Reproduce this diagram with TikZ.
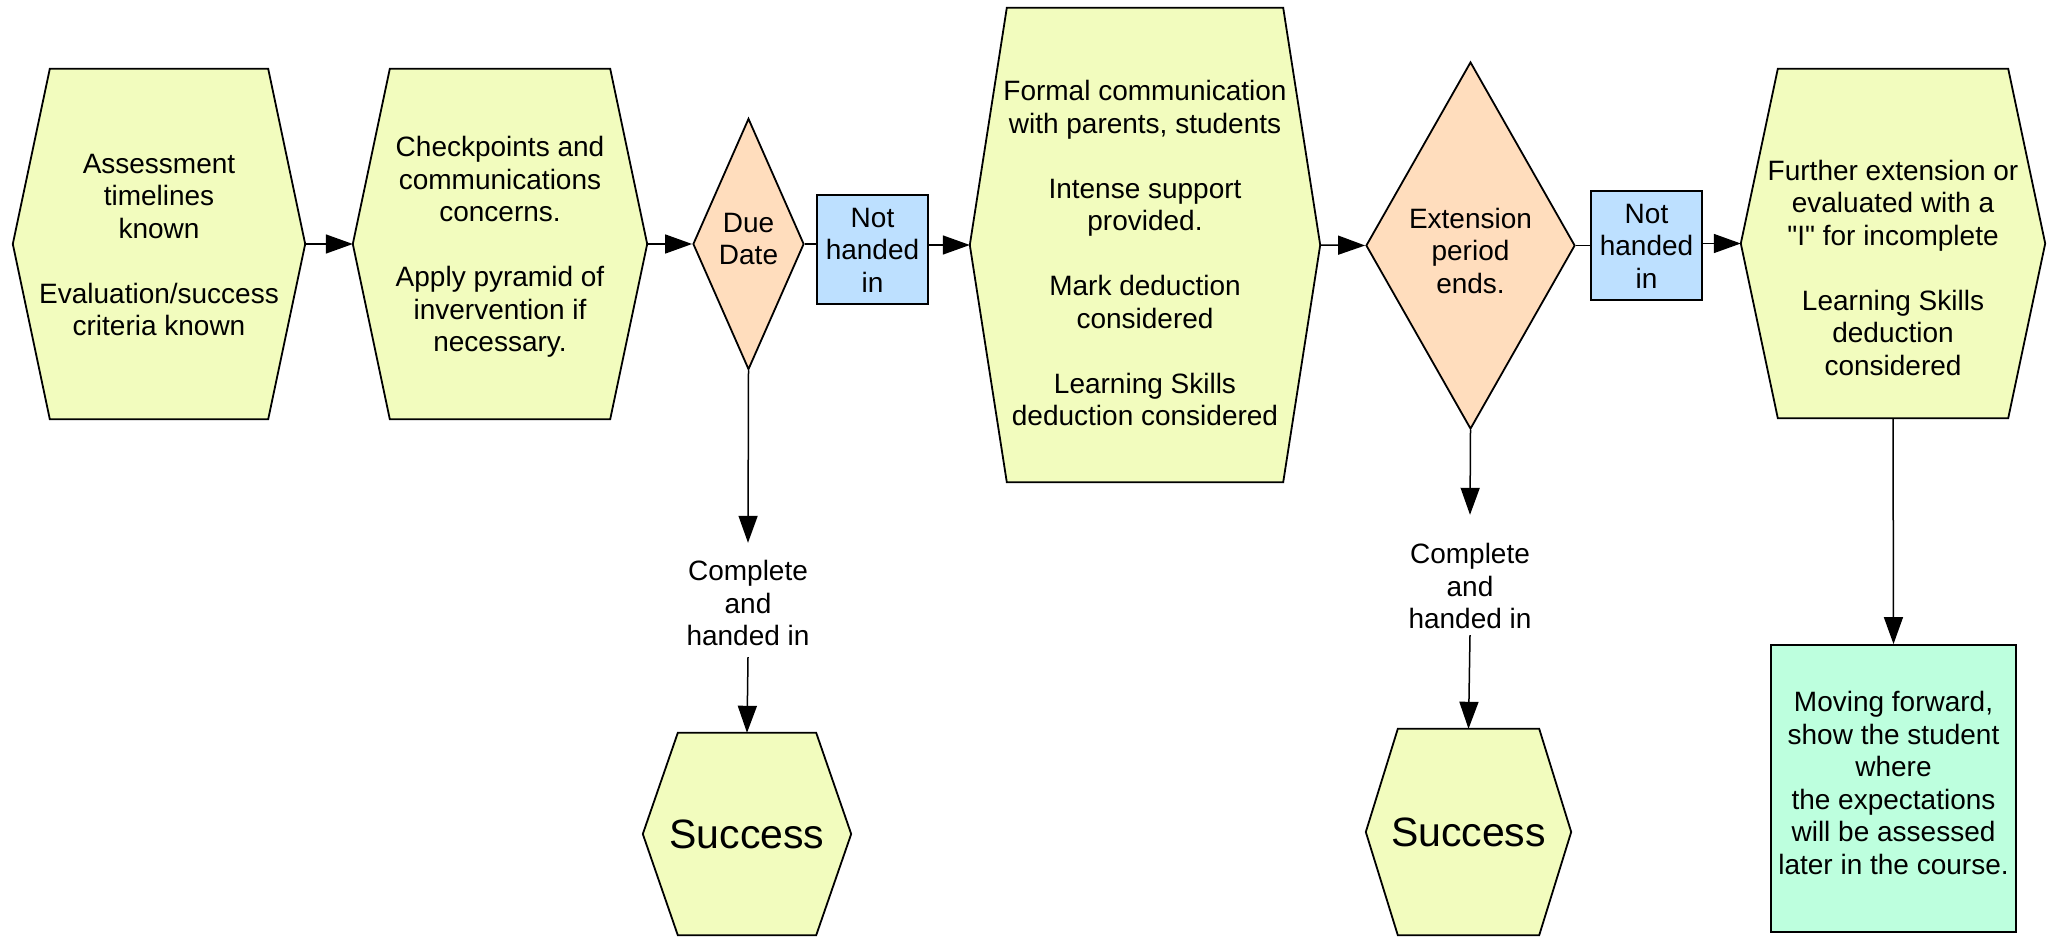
\documentclass[tikz,border=0pt]{standalone}
\usepackage{fontspec}
\setmainfont{Liberation Sans}[Ligatures=TeXOff]
\usetikzlibrary{arrows.meta,shapes.geometric,backgrounds}
\definecolor{hexfill}{RGB}{242,252,190}
\definecolor{decfill}{RGB}{255,221,189}
\definecolor{nhfill}{RGB}{189,224,255}
\definecolor{endfill}{RGB}{189,255,222}
\newcommand\tx[2]{\raisebox{#1pt}[0pt][0pt]{\begin{tabular}{@{}c@{}}#2\end{tabular}}}
\newcommand\hexpath[2]{%
  \path[hexshape] (#1.west) -- ([xshift=#2]#1.north west) -- ([xshift=-#2]#1.north east)
    -- (#1.east) -- ([xshift=-#2]#1.south east) -- ([xshift=#2]#1.south west) -- cycle;}
\tikzset{
  txtfont/.style={font=\fontsize{28}{32.5}\selectfont},
  hexbox/.style={rectangle, inner sep=0pt, txtfont},
  hexshape/.style={draw=black, line width=1.8pt, fill=hexfill, line join=miter},
  decision/.style={diamond, draw=black, fill=decfill, line width=1.8pt, inner sep=0pt, txtfont},
  nhbox/.style={rectangle, draw=black, fill=nhfill, line width=1.8pt, inner sep=0pt,
    minimum width=111, minimum height=109, txtfont},
  endbox/.style={rectangle, draw=black, fill=endfill, line width=1.8pt, inner sep=0pt, txtfont},
  lbl/.style={rectangle, inner sep=0pt, txtfont},
  conn/.style={line width=1.5pt},
  arr/.style={conn, -{Triangle[length=27pt,width=19pt]}},
}
\begin{document}
\begin{tikzpicture}[x=1pt, y=-1pt]
\useasboundingbox (0,0) rectangle (2053,939);
% top row
\node[hexbox, minimum width=292, minimum height=350] (h1) at (159,244)
  {\tx{-10}{Assessment\\timelines\\known\\ \\Evaluation/success\\criteria known}};
\node[hexbox, minimum width=294, minimum height=350] (h2) at (500,244)
  {\tx{-10}{Checkpoints and\\communications\\concerns.\\ \\Apply pyramid of\\invervention if\\necessary.}};
\node[decision, minimum width=111, minimum height=251] (due) at (748.5,244)
  {\tx{-4}{Due\\Date}};
\node[nhbox] (nh1) at (872.5,249.5) {\tx{-10}{Not\\handed\\in}};
\node[hexbox, minimum width=350, minimum height=474] (h3) at (1145,245)
  {\tx{-18}{Formal communication\\with parents, students\\ \\Intense support\\provided.\\ \\Mark deduction\\considered\\ \\Learning Skills\\deduction considered}};
\node[decision, minimum width=209, minimum height=367] (ext) at (1470.5,245.5)
  {\tx{-15}{Extension\\period\\ends.}};
\node[nhbox] (nh2) at (1646.5,245.5) {\tx{-10}{Not\\handed\\in}};
\node[hexbox, minimum width=304, minimum height=349] (h4) at (1893,243.5)
  {\tx{-34}{Further extension or\\evaluated with a\\"I" for incomplete\\ \\Learning Skills\\deduction\\considered}};
% lower parts
\node[lbl, minimum height=114] (c1) at (748,600) {\tx{-13}{Complete\\and\\handed in}};
\node[hexbox, minimum width=208, minimum height=202, font=\fontsize{41}{48}\selectfont] (s1) at (747,834) {Success};
\node[lbl, minimum height=120] (c2) at (1470,575) {\tx{-21}{Complete\\and\\handed in}};
\node[hexbox, minimum width=205, minimum height=206, font=\fontsize{41}{48}\selectfont] (s2) at (1468.5,832) {Success};
\node[endbox, minimum width=245, minimum height=287] (fin) at (1893.5,788.5)
  {\tx{-4}{Moving forward,\\show the student\\where\\ the expectations\\will be assessed\\later in the course.}};
% hexagon outlines
\begin{scope}[on background layer]
\hexpath{h1}{37}
\hexpath{h2}{37}
\hexpath{h3}{37}
\hexpath{h4}{37}
\hexpath{s1}{35}
\hexpath{s2}{32}
\end{scope}
% connectors
\draw[arr] (h1.east) -- (h2.west);
\draw[arr] (h2.east) -- (due.west);
\draw[conn] (due.east) -- (due.east -| nh1.west);
\draw[arr] (nh1.east |- h3.west) -- (h3.west);
\draw[arr] (h3.east) -- (ext.west);
\draw[conn] (ext.east) -- (ext.east -| nh2.west);
\draw[arr] (nh2.east |- h4.west) -- (h4.west);
\draw[arr] (due.south) -- (c1.north);
\draw[arr] (c1.south) -- (s1.north);
\draw[arr] (ext.south) -- (c2.north);
\draw[arr] (c2.south) -- (s2.north);
\draw[arr] (h4.south) -- (fin.north);
\end{tikzpicture}
\end{document}
